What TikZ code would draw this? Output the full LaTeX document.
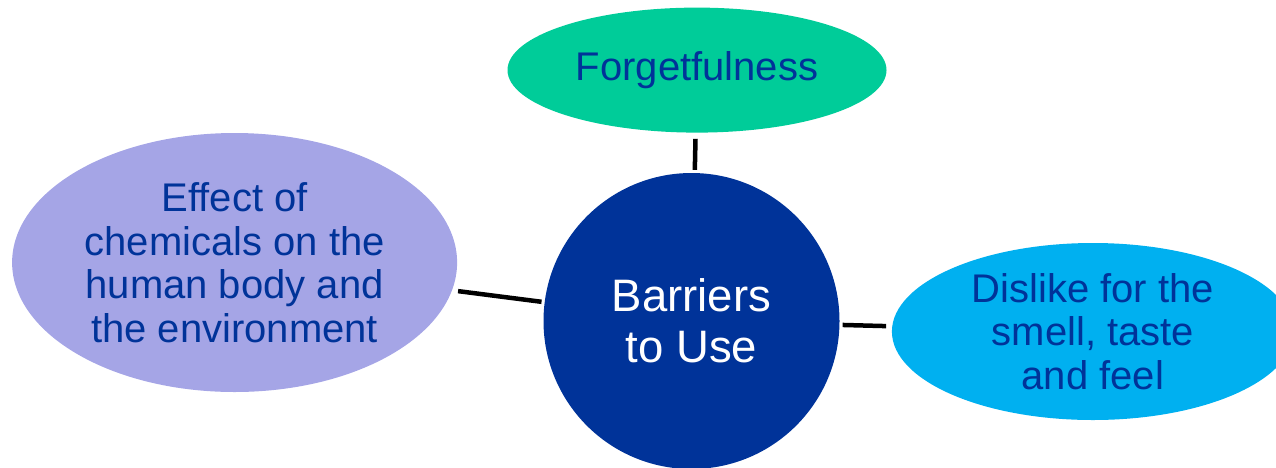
\documentclass[tikz,border=0pt]{standalone}
\usepackage{fontspec}
\setmainfont{Liberation Sans}
\usepackage{xcolor}
\usepackage{tikz}
\usetikzlibrary{shapes.geometric,positioning}

\definecolor{hubblue}{RGB}{0,51,153}
\definecolor{mintgreen}{RGB}{0,204,153}
\definecolor{lavender}{RGB}{165,165,230}
\definecolor{skyblue}{RGB}{0,176,240}

\begin{document}
\begin{tikzpicture}[
  x=1pt, y=-1pt,
  bubble/.style={ellipse, inner sep=0pt, align=center,
                 text=hubblue, font=\fontsize{40}{43.5}\selectfont},
  conn/.style={line width=4.5pt, black, shorten <=3pt, shorten >=6pt}
]
\useasboundingbox (0,0) rectangle (1276,467);
\clip (0,0) rectangle (1276,467);

% Central circle
\node[circle, fill=hubblue, minimum size=296pt, inner sep=0pt,
      text=white, align=center, font=\fontsize{45.5}{51}\selectfont] (hub)
      at (691.5,321) {Barriers\\to Use};

% Surrounding barriers
\node[bubble, fill=mintgreen, minimum width=379pt, minimum height=125pt,
      above=40pt of hub, xshift=5.5pt] (forget) {Forgetfulness};
\node[bubble, fill=lavender, minimum width=445pt, minimum height=259pt,
      left=86pt of hub, yshift=58.5pt] (effect)
      {Effect of\\chemicals on the\\human body and\\the environment};
\node[bubble, fill=skyblue, minimum width=402pt, minimum height=177pt,
      right=52pt of hub, yshift=-10.5pt] (dislike)
      {Dislike for the\\smell, taste\\and feel};

% Connectors
\draw[conn] (hub) -- (forget);
\draw[conn] (hub) -- (effect);
\draw[conn] (hub) -- (dislike);

\end{tikzpicture}
\end{document}
